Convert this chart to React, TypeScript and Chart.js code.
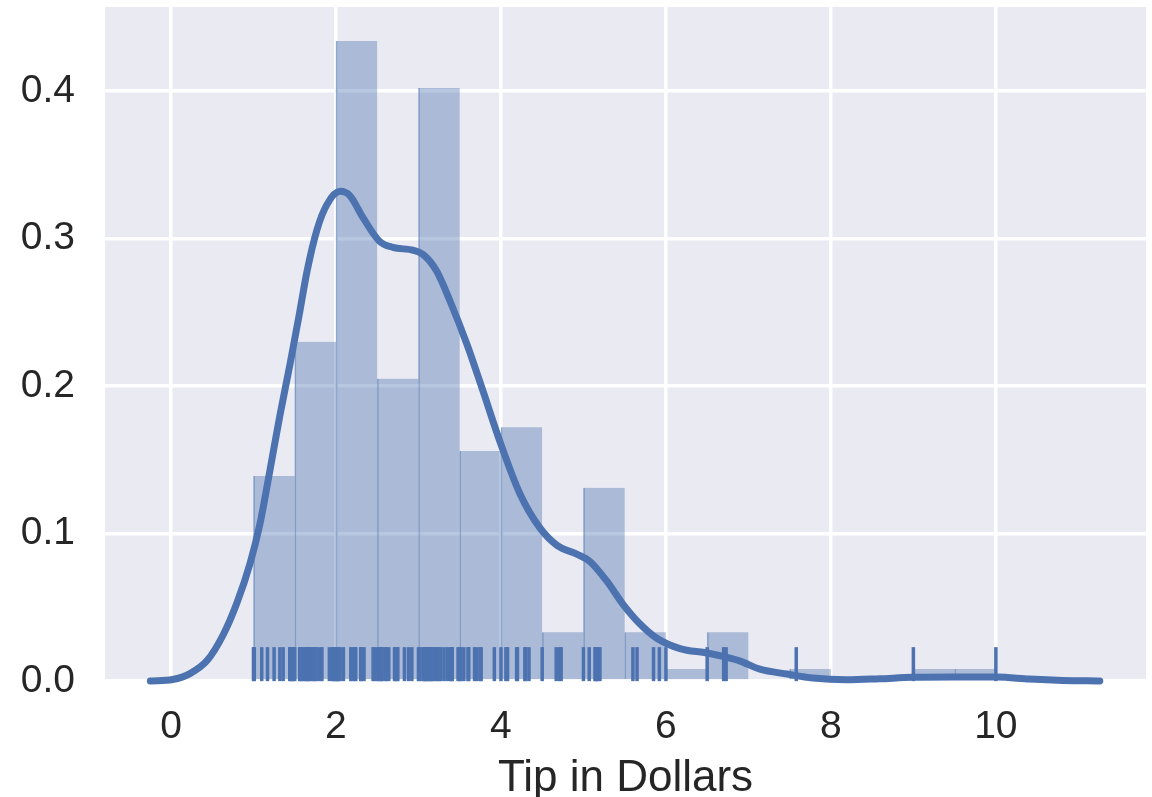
import { useEffect, useRef } from "react";
import { Chart, registerables } from "chart.js";

Chart.register(...registerables);

// Histogram: left edges of the 0.5-dollar bins and their density heights
const binEdges = [1.0, 1.5, 2.0, 2.5, 3.0, 3.5, 4.0, 4.5, 5.0, 5.5, 6.0, 6.5, 7.0, 7.5, 8.0, 8.5, 9.0, 9.5];
const binDensity = [
  0.139, 0.23, 0.434, 0.205, 0.402, 0.156, 0.172, 0.033, 0.131,
  0.033, 0.0082, 0.033, 0, 0.0082, 0, 0, 0.0082, 0.0082,
];
const binWidth = 0.5;

// Kernel density estimate of the tips
const kdeX = [
  -0.25, 0.02, 0.23, 0.44, 0.63, 0.8, 0.96, 1.08, 1.2, 1.32, 1.44, 1.56, 1.65, 1.77, 1.89,
  2.05, 2.17, 2.33, 2.53, 2.69, 2.94, 3.06, 3.22, 3.38, 3.59, 3.78, 3.99, 4.23, 4.47, 4.68,
  4.92, 5.08, 5.28, 5.48, 5.68, 5.89, 6.17, 6.5, 6.74, 6.9, 7.14, 7.47, 7.78, 8.19, 8.59,
  8.99, 9.48, 10.01, 10.41, 10.81, 11.26,
];
const kdeY = [
  0.0, 0.001, 0.005, 0.014, 0.031, 0.053, 0.08, 0.107, 0.143, 0.18, 0.214, 0.25, 0.278, 0.306, 0.323,
  0.332, 0.329, 0.314, 0.298, 0.294, 0.292, 0.289, 0.278, 0.258, 0.228, 0.197, 0.162, 0.127, 0.104, 0.092,
  0.086, 0.081, 0.068, 0.052, 0.039, 0.029, 0.022, 0.019, 0.016, 0.0135, 0.008, 0.0047, 0.002, 0.0008, 0.0015,
  0.0025, 0.0027, 0.0027, 0.0013, 0.0004, 0.0,
];

// Individual tip amounts shown as rug ticks
const tipValues = [
  1.0, 1.01, 1.1, 1.17, 1.25, 1.32, 1.36, 1.44, 1.45, 1.47, 1.48, 1.5, 1.56, 1.57, 1.58, 1.61, 1.63,
  1.64, 1.66, 1.67, 1.68, 1.71, 1.73, 1.75, 1.76, 1.8, 1.83, 1.92, 1.96, 1.97, 1.98, 2.0, 2.01, 2.02,
  2.03, 2.05, 2.09, 2.18, 2.2, 2.23, 2.24, 2.3, 2.31, 2.34, 2.45, 2.47, 2.5, 2.52, 2.54, 2.55, 2.56,
  2.6, 2.61, 2.64, 2.71, 2.72, 2.74, 2.75, 2.83, 2.88, 2.92, 3.0, 3.02, 3.06, 3.07, 3.08, 3.09, 3.11,
  3.12, 3.14, 3.15, 3.16, 3.18, 3.21, 3.23, 3.25, 3.27, 3.31, 3.35, 3.39, 3.4, 3.41, 3.48, 3.5, 3.51,
  3.55, 3.6, 3.61, 3.68, 3.71, 3.75, 3.76, 3.92, 4.0, 4.06, 4.08, 4.19, 4.2, 4.29, 4.3, 4.34, 4.5,
  4.67, 4.71, 4.73, 5.0, 5.07, 5.14, 5.15, 5.16, 5.17, 5.2, 5.6, 5.65, 5.85, 5.92, 6.0, 6.5, 6.7,
  6.73, 7.58, 9.0, 10.0,
];

const xTicks = [0, 2, 4, 6, 8, 10];
const yTicks = [0, 0.1, 0.2, 0.3, 0.4];

const BLUE = "#4C72B0";
const TEXT = "#262626";
const FONT = "'Liberation Sans', Arial, sans-serif";

const plotBackground = {
  id: "plotBackground",
  beforeDraw(chart: any) {
    const { ctx, chartArea: a } = chart;
    ctx.save();
    ctx.fillStyle = "#EAEAF2";
    ctx.fillRect(a.left, a.top, a.right - a.left, a.bottom - a.top);
    ctx.restore();
  },
};

export default function App() {
  const canvasRef = useRef<HTMLCanvasElement | null>(null);

  useEffect(() => {
    const canvas = canvasRef.current;
    if (!canvas) return;

    const histData = binEdges.map((e, i) => ({ x: e + binWidth / 2, y: binDensity[i] }));
    const kdeData = kdeX.map((x, i) => ({ x, y: kdeY[i] }));
    const rugData = tipValues.map((x) => ({ x, y: 0.025 }));

    const chart = new Chart(canvas, {
      type: "bar",
      data: {
        datasets: [
          {
            type: "bar",
            data: histData,
            backgroundColor: "rgba(76,114,176,0.4)",
            borderColor: "rgba(76,114,176,0.55)",
            borderWidth: { left: 1, right: 0, top: 0, bottom: 0 },
            borderSkipped: false,
            barPercentage: 1,
            categoryPercentage: 1,
            order: 3,
          },
          {
            type: "scatter",
            data: rugData,
            yAxisID: "yr",
            pointStyle: "line",
            rotation: 90,
            radius: 17,
            borderWidth: 3.5,
            borderColor: BLUE,
            backgroundColor: BLUE,
            clip: false,
            order: 2,
          },
          {
            type: "line",
            data: kdeData,
            borderColor: BLUE,
            borderWidth: 7,
            pointRadius: 0,
            fill: false,
            cubicInterpolationMode: "monotone",
            borderCapStyle: "round",
            borderJoinStyle: "round",
            clip: false,
            order: 1,
          },
        ],
      } as any,
      options: {
        responsive: false,
        animation: false,
        devicePixelRatio: 1,
        layout: { autoPadding: false, padding: { top: 7, right: 6, left: 0, bottom: 0 } },
        plugins: { legend: { display: false }, tooltip: { enabled: false } },
        events: [],
        scales: {
          x: {
            type: "linear",
            position: "bottom",
            min: -0.8,
            max: 11.82,
            offset: false,
            grid: { color: "#FFFFFF", lineWidth: 3.5, drawTicks: false, offset: false },
            border: { display: false },
            ticks: {
              color: TEXT,
              font: { family: FONT, size: 39 },
              padding: 23,
              maxRotation: 0,
              autoSkip: false,
              callback: (v: any) => String(v),
            },
            title: {
              display: true,
              text: "Tip in Dollars",
              color: TEXT,
              font: { family: FONT, size: 44, lineHeight: 1 },
              padding: { top: 0, bottom: -4 },
            },
            afterBuildTicks: (s: any) => {
              s.ticks = xTicks.map((value) => ({ value }));
            },
            afterFit: (s: any) => {
              s.height = 116;
              s.paddingLeft = 0;
              s.paddingRight = 0;
            },
          },
          y: {
            type: "linear",
            position: "left",
            min: 0,
            max: 0.457,
            grid: { color: "#FFFFFF", lineWidth: 3.5, drawTicks: false },
            border: { display: false },
            ticks: {
              color: TEXT,
              font: { family: FONT, size: 39 },
              padding: 30,
              callback: (v: any) => Number(v).toFixed(1),
            },
            afterBuildTicks: (s: any) => {
              s.ticks = yTicks.map((value) => ({ value }));
            },
            afterFit: (s: any) => {
              s.width = 105;
              s.paddingTop = 0;
              s.paddingBottom = 0;
            },
          },
          yr: {
            type: "linear",
            display: false,
            min: 0,
            max: 1,
          },
        },
      } as any,
      plugins: [plotBackground],
    });

    return () => chart.destroy();
  }, []);

  return (
    <div style={{ position: "absolute", left: 0, top: 0, width: 1152, height: 797, background: "#FFFFFF" }}>
      <canvas ref={canvasRef} width={1152} height={797} style={{ display: "block" }} />
    </div>
  );
}
